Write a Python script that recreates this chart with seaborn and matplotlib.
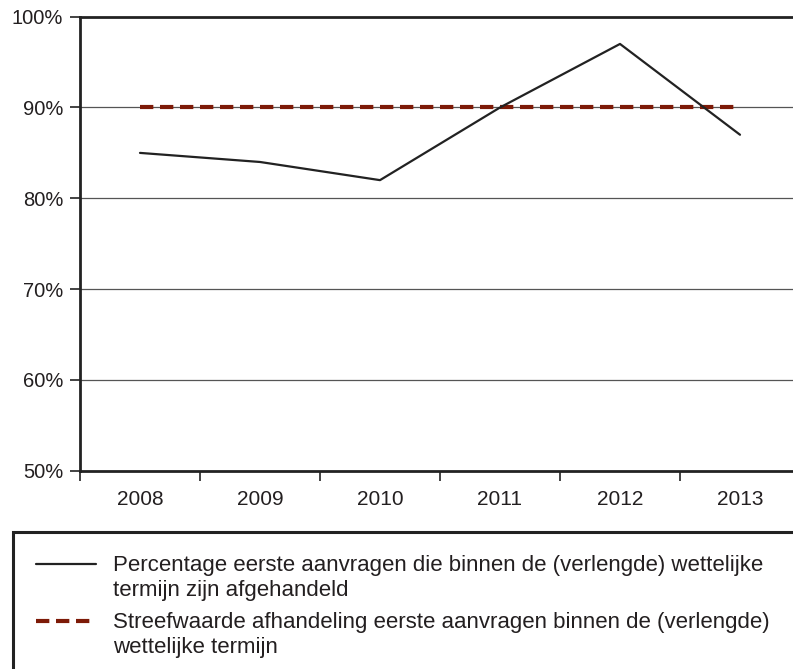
import pandas as pd
import matplotlib.pyplot as plt
import matplotlib.patches as mpatches
from matplotlib.lines import Line2D
import seaborn as sns

# data
jaren = ["2008", "2009", "2010", "2011", "2012", "2013"]
percentage = [85, 84, 82, 90, 97, 87]
streefwaarde = [90, 90, 90, 90, 90, 90]
y_ticks = [50, 60, 70, 80, 90, 100]
y_labels = ["50%", "60%", "70%", "80%", "90%", "100%"]

label_1 = "Percentage eerste aanvragen die binnen de (verlengde) wettelijke\ntermijn zijn afgehandeld"
label_2 = "Streefwaarde afhandeling eerste aanvragen binnen de (verlengde)\nwettelijke termijn"

df = pd.DataFrame({"jaar": jaren, "percentage": percentage, "streef": streefwaarde})

sns.set_style("white")
plt.rcParams["font.family"] = ["Liberation Sans", "DejaVu Sans"]
tekst = "#231f20"
zwart = "#222222"
rood = "#7d1a07"
streep = (0, (3.2, 1.6))

fig = plt.figure(figsize=(7.93, 6.69), dpi=100)
ax = fig.add_axes([80 / 793, 1 - 470.7 / 669, 720 / 793, (470.7 - 16.7) / 669])

# grid lines first so the series sit on top
for v in y_ticks[1:-1]:
    ax.axhline(v, color="#555555", lw=0.9, zorder=1)

sns.lineplot(data=df, x="jaar", y="streef", ax=ax, color=rood, lw=3.0,
             linestyle=streep, zorder=3)
sns.lineplot(data=df, x="jaar", y="percentage", ax=ax, color=zwart, lw=1.6, zorder=4)

ax.set_xlim(-0.5, 5.5)
ax.set_ylim(50, 100)
ax.set_yticks(y_ticks)
ax.set_yticklabels(y_labels)
ax.set_xticks(range(len(jaren)))
ax.set_xticklabels(jaren)
ax.set_xticks([i - 0.5 for i in range(len(jaren) + 1)], minor=True)
ax.set_xlabel("")
ax.set_ylabel("")

ax.tick_params(axis="x", which="major", length=0, pad=14, labelsize=15, labelcolor=tekst)
ax.tick_params(axis="x", which="minor", length=7, width=1.2, color=zwart, direction="out", bottom=True)
ax.tick_params(axis="y", length=7, width=1.2, color=zwart, direction="out", left=True,
               pad=5, labelsize=14.5, labelcolor=tekst)

for side in ["left", "bottom", "top"]:
    ax.spines[side].set_visible(True)
    ax.spines[side].set_color(zwart)
    ax.spines[side].set_linewidth(2.0)
ax.spines["right"].set_visible(False)

# legend box under the chart, sample lines aligned with the first text line
box = mpatches.Rectangle((12.7 / 793, -0.2), 1.2, 0.2 + (669 - 531.7) / 669,
                         transform=fig.transFigure, fill=False, lw=2.2,
                         edgecolor=zwart, clip_on=False)
fig.patches.append(box)

legenda = [(label_1, zwart, 1.6, "-", 564), (label_2, rood, 3.0, streep, 621)]
for tekstje, kleur, dikte, stijl, ypix in legenda:
    yf = 1 - ypix / 669
    fig.add_artist(Line2D([36 / 793, 96 / 793], [yf, yf], transform=fig.transFigure,
                          color=kleur, lw=dikte, linestyle=stijl))
    fig.text(113 / 793, 1 - (ypix - 9) / 669, tekstje, va="top", ha="left",
             fontsize=16, color=tekst, linespacing=1.25)

fig.savefig("out.png", dpi=100)
